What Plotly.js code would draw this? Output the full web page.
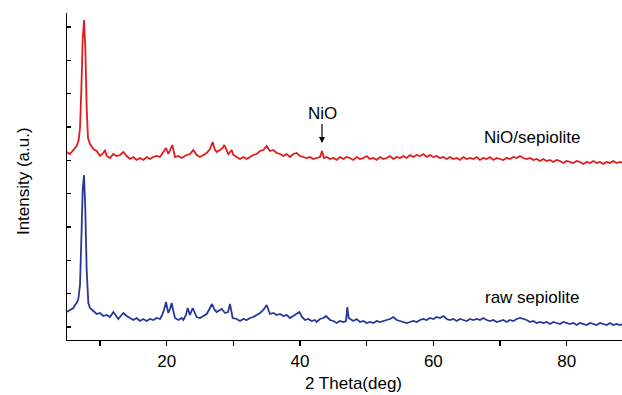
<!DOCTYPE html>
<html>
<head>
<meta charset="utf-8">
<script src="https://cdn.plot.ly/plotly-3.0.1.min.js"></script>
<style>
html,body{margin:0;padding:0;background:#fff;}
#chart{width:622px;height:395px;}
</style>
</head>
<body>
<div id="chart"></div>
<script>
// 2-theta positions (deg) and intensities (a.u.)
const thetaNiO = [5,5.5,6,6.5,6.8,7,7.2,7.4,7.6,7.8,8,8.2,8.5,9,9.5,10,10.5,10.75,11,11.5,12,12.5,13,13.5,14,14.5,15,15.5,16,16.5,17,17.5,18,18.5,19,19.5,19.9,20.25,20.5,20.85,21.25,21.75,22.25,22.5,23,23.5,24,24.5,25,25.5,26,26.5,26.9,27.2,27.5,28,28.4,28.65,29,29.25,29.75,30,30.5,31,31.5,32,32.5,33,33.5,34,34.5,35,35.5,36,36.5,37,37.5,38,38.5,39,39.5,40,40.5,41,41.5,42,42.5,43,43.3,43.6,44,44.5,45,45.5,46,46.5,47,47.5,48,48.5,49,49.5,50,50.5,51,51.5,52,52.5,53,53.5,54,54.5,55,55.5,56,56.5,57,57.5,58,58.5,59,59.5,60,60.5,61,61.5,62,62.5,63,63.5,64,64.5,65,65.5,66,66.5,67,67.5,68,68.5,69,69.5,70,70.5,71,71.5,72,72.5,73,73.5,74,74.5,75,75.5,76,76.5,77,77.5,78,78.5,79,79.5,80,80.5,81,81.5,82,82.5,83,83.5,84,84.5,85,85.5,86,86.5,87,87.5,88,88.5];
const intNiO = [188,186,190,194,200,212,250,300,320,292,232,202,196,191,189,184,187,190,184,182,186,184,185,188,184,181,183,180,182,180,183,181,183,184,183,188,192,186,190,195,183,184,182,183,185,186,190,185,183,185,187,191,198,191,188,190,192,195,189,186,190,185,183,181,183,181,183,185,186,189,190,194,189,190,187,186,184,186,183,186,187,184,183,182,183,181,182,183,189,182,183,181,182,180,183,181,183,182,180,183,181,182,184,181,182,180,183,181,182,184,181,183,182,184,182,185,183,185,184,186,183,185,183,184,182,183,181,183,181,182,180,183,181,182,181,183,180,182,181,183,180,182,181,180,182,181,183,182,184,182,181,182,180,181,179,181,179,180,178,180,179,177,179,178,177,179,178,176,178,177,179,177,178,176,178,177,179,177,178,177];

const thetaRaw = [5,5.5,6,6.25,6.5,6.75,7,7.2,7.4,7.6,7.8,8,8.25,8.5,9,9.5,10,10.5,11,11.5,12,12.4,12.75,13.1,13.5,14,14.5,15,15.5,16,16.5,17,17.5,18,18.5,19,19.25,19.6,19.9,20.25,20.5,20.75,21,21.25,21.75,22.25,22.5,22.9,23.15,23.5,23.9,24.2,24.5,25,25.5,26,26.5,26.8,27.2,27.5,28,28.25,28.75,29.2,29.5,29.9,30.5,31,31.5,32,32.5,33,33.5,34,34.5,35,35.5,36,36.5,37,37.5,38,38.5,39,39.5,39.9,40.3,40.75,41.25,41.75,42.25,42.5,43,43.5,43.9,44.5,45,45.5,46,46.5,46.9,47.1,47.3,47.5,48,48.5,49,49.5,50,50.5,51,51.5,52,52.5,53,53.5,54,54.5,55,55.5,56,56.5,57,57.5,58,58.5,59,59.5,60,60.5,61,61.5,62,62.5,63,63.5,64,64.5,65,65.5,66,66.5,67,67.5,68,68.5,69,69.5,70,70.5,71,71.5,72,72.5,73,73.5,74,74.5,75,75.5,76,76.5,77,77.5,78,78.5,79,79.5,80,80.5,81,81.5,82,82.5,83,83.5,84,84.5,85,85.5,86,86.5,87,87.5,88,88.5];
const intRaw = [28,30,32,35,37,41,55,100,150,165,130,70,37,32,29,26,27,24,25,23,28,24,21,24,27,24,22,20,22,19,21,19,21,20,22,21,24,30,38,27,31,37,29,22,20,22,20,25,32,25,32,27,23,22,24,26,32,36,30,28,30,31,27,28,36,22,21,19,21,20,22,23,25,27,30,35,26,27,25,26,24,25,22,24,26,28,23,20,21,19,20,18,21,22,24,20,19,17,19,18,19,33,22,21,19,21,18,19,17,18,17,19,18,19,20,21,23,20,19,18,17,18,19,18,20,21,20,22,21,23,22,24,21,20,21,19,21,20,19,21,20,21,20,22,20,19,20,18,19,20,18,20,19,21,22,21,20,18,19,17,18,17,18,16,18,17,16,18,17,16,17,15,17,16,15,17,16,15,17,16,15,17,15,16,15,16];

const xTickVals = [10,20,30,40,50,60,70,80];
const xTickText = ['','20','','40','','60','','80'];
const seriesNames = ['NiO/sepiolite','raw sepiolite'];

const font = 'Arial, "Liberation Sans", sans-serif';

const traces = [
  {x: thetaNiO, y: intNiO, type:'scatter', mode:'lines', name: seriesNames[0],
   line:{color:'#e31a1c', width:1.8}, hoverinfo:'skip'},
  {x: thetaRaw, y: intRaw, type:'scatter', mode:'lines', name: seriesNames[1],
   line:{color:'#26399a', width:1.8}, hoverinfo:'skip'}
];

const layout = {
  width:622, height:395,
  margin:{l:67, r:0, t:13, b:55},
  paper_bgcolor:'#fff', plot_bgcolor:'#fff',
  showlegend:false,
  font:{family:font, size:17, color:'#000'},
  xaxis:{
    range:[5.05, 88.3], showgrid:false, zeroline:false,
    showline:true, linecolor:'#000', linewidth:1.3,
    ticks:'outside', ticklen:5, tickwidth:1.3, tickcolor:'#000',
    tickvals:xTickVals, ticktext:xTickText,
    tickfont:{family:font, size:17, color:'#000'}
  },
  xaxis2:{
    overlaying:'x', side:'top', matches:'x', range:[5.05, 88.3],
    showgrid:false, zeroline:false, showline:true, linecolor:'#000', linewidth:1.3,
    ticks:'inside', ticklen:4, tickwidth:1.3, tickcolor:'#000',
    tickvals:xTickVals, showticklabels:false
  },
  yaxis:{
    range:[0, 327], showgrid:false, zeroline:false,
    showline:true, linecolor:'#000', linewidth:1.3,
    ticks:'inside', ticklen:4, tickwidth:1.3, tickcolor:'#000',
    tick0:13, dtick:33.333, showticklabels:false
  },
  annotations:[
    {x:43.3, y:197, xref:'x', yref:'y', text:'NiO', showarrow:true,
     arrowhead:2, arrowsize:1, arrowwidth:1.2, arrowcolor:'#000',
     ax:0, ay:-30, font:{family:font, size:17, color:'#000'}},
    {x:74.8, y:203, xref:'x', yref:'y', text:seriesNames[0], showarrow:false,
     font:{family:font, size:17, color:'#000'}},
    {x:74.9, y:43, xref:'x', yref:'y', text:seriesNames[1], showarrow:false,
     font:{family:font, size:17, color:'#000'}},
    {x:48, y:0, xref:'x', yref:'paper', text:'2 Theta(deg)', showarrow:false,
     yanchor:'middle', yshift:-43, font:{family:font, size:17, color:'#000'}},
    {x:0, y:0.486, xref:'paper', yref:'paper', text:'Intensity (a.u.)', showarrow:false,
     textangle:-90, xanchor:'center', yanchor:'middle', xshift:-44,
     font:{family:font, size:17, color:'#000'}}
  ]
};

Plotly.newPlot('chart', traces, layout, {staticPlot:true, displayModeBar:false});
</script>
</body>
</html>
